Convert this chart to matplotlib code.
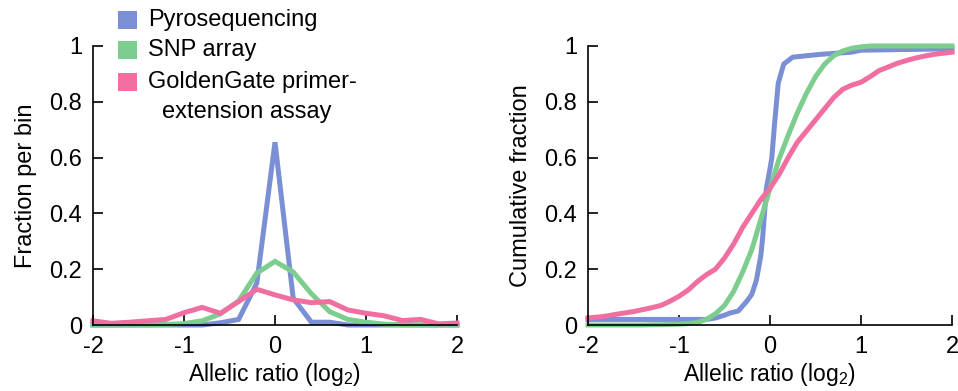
import matplotlib
matplotlib.use("Agg")
import matplotlib.pyplot as plt
from matplotlib.patches import Rectangle

# ==============================
# DADOS
# ==============================
bins = [-2.0, -1.8, -1.6, -1.4, -1.2, -1.0, -0.8, -0.6, -0.4, -0.2, 0.0,
        0.2, 0.4, 0.6, 0.8, 1.0, 1.2, 1.4, 1.6, 1.8, 2.0]
pyro_bin = [0.0, 0.0, 0.0, 0.0, 0.0, 0.0, 0.0, 0.008, 0.02, 0.15, 0.655,
            0.096, 0.01, 0.01, 0.0, 0.0, 0.0, 0.0, 0.0, 0.0, 0.0]
snp_bin = [0.0, 0.0, 0.0, 0.001, 0.002, 0.005, 0.015, 0.04, 0.086, 0.186, 0.228,
           0.19, 0.112, 0.048, 0.02, 0.01, 0.003, 0.001, 0.0, 0.0, 0.0]
gg_bin = [0.015, 0.006, 0.01, 0.015, 0.02, 0.044, 0.063, 0.042, 0.084, 0.128, 0.108,
          0.09, 0.08, 0.084, 0.054, 0.042, 0.033, 0.016, 0.02, 0.004, 0.007]

pyro_x = [-2.0, -0.7, -0.6, -0.5, -0.44, -0.35, -0.26, -0.2, -0.15, -0.1, -0.08,
          -0.04, 0.0, 0.02, 0.05, 0.09, 0.15, 0.25, 0.55, 0.9, 1.0, 2.0]
pyro_cdf = [0.02, 0.02, 0.025, 0.035, 0.043, 0.05, 0.083, 0.11, 0.16, 0.25, 0.316,
            0.49, 0.56, 0.6, 0.72, 0.866, 0.935, 0.96, 0.97, 0.978, 0.985, 0.99]

grid_x = [-2.0, -1.9, -1.8, -1.7, -1.6, -1.5, -1.4, -1.3, -1.2, -1.1, -1.0,
          -0.9, -0.8, -0.7, -0.6, -0.5, -0.4, -0.3, -0.2, -0.1, 0.0,
          0.1, 0.2, 0.3, 0.4, 0.5, 0.6, 0.7, 0.8, 0.9, 1.0,
          1.1, 1.2, 1.3, 1.4, 1.5, 1.6, 1.7, 1.8, 1.9, 2.0]
snp_cdf = [0.0, 0.0, 0.0, 0.0, 0.0, 0.0, 0.0, 0.001, 0.001, 0.002, 0.003,
           0.005, 0.009, 0.02, 0.04, 0.07, 0.12, 0.19, 0.27, 0.38, 0.49,
           0.595, 0.68, 0.76, 0.83, 0.89, 0.935, 0.965, 0.982, 0.992, 0.997,
           1.0, 1.0, 1.0, 1.0, 1.0, 1.0, 1.0, 1.0, 1.0, 1.0]
gg_cdf = [0.025, 0.028, 0.032, 0.038, 0.043, 0.048, 0.055, 0.062, 0.07, 0.085, 0.103,
          0.125, 0.155, 0.18, 0.2, 0.24, 0.29, 0.35, 0.4, 0.45, 0.49,
          0.54, 0.6, 0.655, 0.695, 0.735, 0.775, 0.815, 0.845, 0.86, 0.87,
          0.89, 0.912, 0.925, 0.938, 0.948, 0.957, 0.964, 0.97, 0.974, 0.978]

series_names = ["Pyrosequencing", "SNP array", "GoldenGate primer-\nextension assay"]
cores = ["#7b8fd4", "#7dce8e", "#f06ea0"]

x_ticks = [-2, -1, 0, 1, 2]
y_ticks = [0, 0.2, 0.4, 0.6, 0.8, 1]
y_tick_labels = ["0", "0.2", "0.4", "0.6", "0.8", "1"]

# ==============================
# ESTILO
# ==============================
plt.rcParams["font.family"] = ["Liberation Sans", "DejaVu Sans"]
plt.rcParams["mathtext.fontset"] = "custom"
plt.rcParams["mathtext.rm"] = "Liberation Sans"
plt.rcParams["mathtext.it"] = "Liberation Sans"
plt.rcParams["axes.unicode_minus"] = False

LW = 3.6


def estilo_eixo(ax, ylabel):
    ax.set_xlim(-2, 2)
    ax.set_ylim(0, 1)
    for lado in ["top", "right"]:
        ax.spines[lado].set_visible(False)
    for lado in ["left", "bottom"]:
        ax.spines[lado].set_linewidth(1.2)
    ax.set_xticks(x_ticks)
    ax.set_xticklabels([str(t) for t in x_ticks])
    ax.set_yticks(y_ticks)
    ax.set_yticklabels(y_tick_labels)
    ax.tick_params(direction="in", length=7, width=1.2, labelsize=17)
    ax.tick_params(axis="x", pad=8)
    ax.tick_params(axis="y", pad=8)
    ax.set_xlabel("Allelic ratio (log$_2$)", fontsize=16.5, labelpad=2)
    ax.set_ylabel(ylabel, fontsize=17, labelpad=9)


fig = plt.figure(figsize=(9.58, 3.91), dpi=100)
ax1 = fig.add_axes([93 / 958, 66 / 391, 364 / 958, 279 / 391])
ax2 = fig.add_axes([588 / 958, 66 / 391, 364 / 958, 279 / 391])

# ==============================
# PAINEL ESQUERDO
# ==============================
for vals, cor in zip([pyro_bin, snp_bin, gg_bin], cores):
    ax1.plot(bins, vals, color=cor, lw=LW, clip_on=False, solid_joinstyle="miter")
estilo_eixo(ax1, "Fraction per bin")

# ==============================
# PAINEL DIREITO
# ==============================
ax2.plot(pyro_x, pyro_cdf, color=cores[0], lw=LW, clip_on=False)
ax2.plot(grid_x, snp_cdf, color=cores[1], lw=LW, clip_on=False)
ax2.plot(grid_x, gg_cdf, color=cores[2], lw=LW, clip_on=False)
estilo_eixo(ax2, "Cumulative fraction")

# ==============================
# LEGENDA
# ==============================
W, H = 958, 391
leg_y = [20, 50, 82]
for nome, cor, yc in zip(series_names, cores, leg_y):
    fig.add_artist(Rectangle((118 / W, 1 - (yc + 9) / H), 19 / W, 18 / H,
                             transform=fig.transFigure, color=cor, lw=0))
    primeira = nome.split("\n")[0]
    fig.text(148 / W, 1 - yc / H, primeira, fontsize=17, va="center", ha="left")
fig.text(247 / W, 1 - 112 / H, "extension assay", fontsize=17, va="center", ha="center")

fig.savefig("out.png", dpi=100)
